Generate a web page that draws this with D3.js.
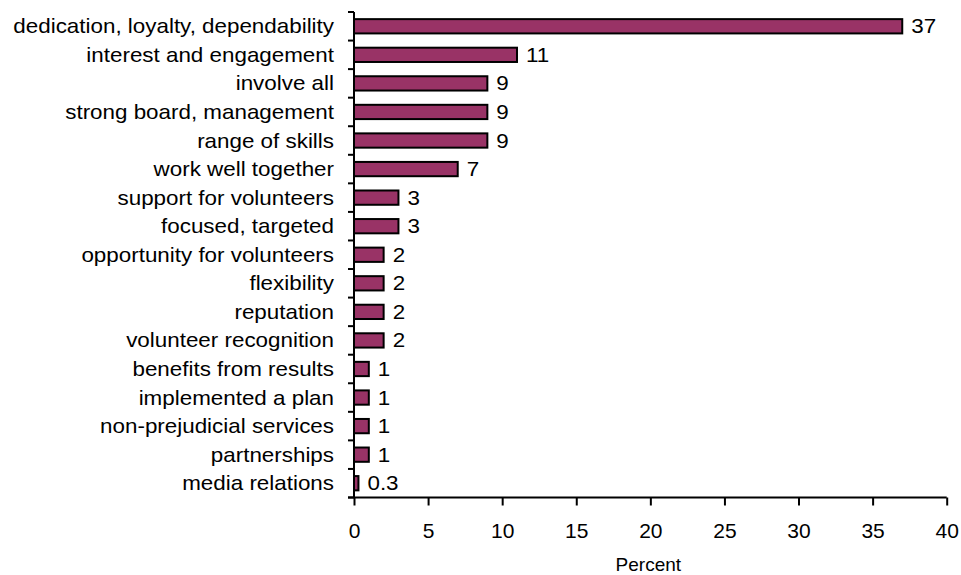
<!DOCTYPE html>
<html>
<head>
<meta charset="utf-8">
<script src="https://cdn.jsdelivr.net/npm/d3@7"></script>
<style>
  html, body { margin: 0; padding: 0; background: #fff; }
  svg { display: block; font-family: "Liberation Sans", Arial, sans-serif; }
</style>
</head>
<body>
<svg id="chart" width="961" height="575"></svg>
<script>
// Reasons for success, percent of responses
const categories = [
  "dedication, loyalty, dependability",
  "interest and engagement",
  "involve all",
  "strong board, management",
  "range of skills",
  "work well together",
  "support for volunteers",
  "focused, targeted",
  "opportunity for volunteers",
  "flexibility",
  "reputation",
  "volunteer recognition",
  "benefits from results",
  "implemented a plan",
  "non-prejudicial services",
  "partnerships",
  "media relations"
];
const values = [37, 11, 9, 9, 9, 7, 3, 3, 2, 2, 2, 2, 1, 1, 1, 1, 0.3];
const valueLabels = ["37", "11", "9", "9", "9", "7", "3", "3", "2", "2", "2", "2", "1", "1", "1", "1", "0.3"];
const xTicks = [0, 5, 10, 15, 20, 25, 30, 35, 40];
const xTitle = "Percent";

const svg = d3.select("#chart");
const plotLeft = 354, plotRight = 946.7, plotTop = 12, plotBottom = 497.5;
const stretch = 1.12; // labels are set slightly wide

const x = d3.scaleLinear().domain([0, 40]).range([plotLeft, plotRight]);
const y = d3.scaleBand().domain(categories).range([plotTop, plotBottom]).paddingInner(0.5).paddingOuter(0.25);

// bars
svg.append("g").selectAll("rect")
  .data(values)
  .join("rect")
  .attr("x", x(0))
  .attr("y", (d, i) => y(categories[i]))
  .attr("width", d => x(d) - x(0))
  .attr("height", y.bandwidth())
  .attr("fill", "#993366")
  .attr("stroke", "#000")
  .attr("stroke-width", 2);

// value labels
svg.append("g").selectAll("text")
  .data(values)
  .join("text")
  .attr("transform", (d, i) => `translate(${x(d) + 9},${y(categories[i]) + y.bandwidth() / 2}) scale(${stretch},1)`)
  .attr("dy", "0.35em")
  .attr("font-size", 20)
  .attr("fill", "#000")
  .text((d, i) => valueLabels[i]);

// y axis: ticks at category boundaries
const yAxis = svg.append("g");
yAxis.append("line")
  .attr("x1", plotLeft).attr("x2", plotLeft)
  .attr("y1", plotTop).attr("y2", plotBottom)
  .attr("stroke", "#000").attr("stroke-width", 2);
const step = (plotBottom - plotTop) / categories.length;
yAxis.selectAll("line.tick")
  .data(d3.range(categories.length + 1))
  .join("line")
  .attr("class", "tick")
  .attr("x1", plotLeft - 6).attr("x2", plotLeft)
  .attr("y1", i => plotTop + i * step).attr("y2", i => plotTop + i * step)
  .attr("stroke", "#000").attr("stroke-width", 2);
yAxis.selectAll("text")
  .data(categories)
  .join("text")
  .attr("transform", d => `translate(${plotLeft - 20},${y(d) + y.bandwidth() / 2}) scale(${stretch},1)`)
  .attr("dy", "0.35em")
  .attr("text-anchor", "end")
  .attr("font-size", 20)
  .attr("fill", "#000")
  .text(d => d);

// x axis
const xAxis = svg.append("g")
  .attr("transform", `translate(0,${plotBottom})`)
  .call(d3.axisBottom(x).tickValues(xTicks).tickSize(8).tickSizeOuter(0).tickPadding(18));
xAxis.select(".domain").attr("stroke", "#000").attr("stroke-width", 2).attr("d", `M${plotLeft - 6},0H${plotRight}`);
xAxis.selectAll(".tick line").attr("stroke", "#000").attr("stroke-width", 2);
xAxis.selectAll(".tick text").attr("font-size", 21).attr("fill", "#000")
  .attr("font-family", "'Liberation Sans', Arial, sans-serif");

svg.append("text")
  .attr("x", (plotLeft + plotRight) / 2 - 2)
  .attr("y", 571)
  .attr("text-anchor", "middle")
  .attr("font-size", 19)
  .attr("fill", "#000")
  .text(xTitle);
</script>
</body>
</html>
